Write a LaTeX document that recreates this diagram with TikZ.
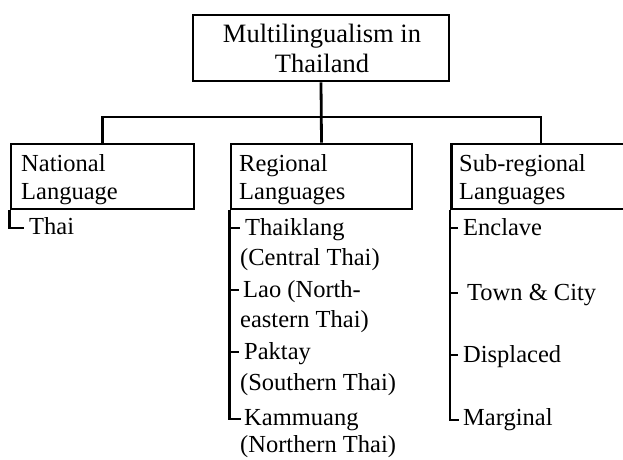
\documentclass[tikz,border=0pt]{standalone}
\usepackage{fontspec}
\setmainfont{Liberation Serif}
\begin{document}
\begin{tikzpicture}[x=1pt,y=-1pt,
  box/.style={draw=black,line width=2.8pt,minimum height=65pt,inner sep=0pt},
  lbl/.style={anchor=base west,inner sep=0pt,font=\fontsize{24.5}{30}\selectfont},
  ttl/.style={anchor=base,inner sep=0pt,font=\fontsize{26.5}{30}\selectfont},
  conn/.style={line width=2.8pt},
  lst/.style={line width=2.8pt},
  tick/.style={line width=2.4pt}]
\useasboundingbox[fill=white] (0,0) rectangle (623,459);
\begin{scope}
\clip (0,0) rectangle (623,459);
% boxes
\node[box,minimum width=256pt,minimum height=66pt] (top) at (321,48) {};
\node[box,minimum width=183pt] (nat) at (102.5,176.5) {};
\node[box,minimum width=181pt] (reg) at (321.5,176.5) {};
\node[box,minimum width=260pt,anchor=west] (sub) at (450,176.5) {};
\end{scope}
% title
\node[ttl] (t1) at (322,42) {Multilingualism in};
\node[ttl] (t2) at (322,72) {Thailand};
% connectors
\coordinate (hub) at (321,117);
\coordinate (subdrop) at (541,144);
\draw[conn] (top.south) -- (reg.north);
\draw[conn] (nat.north) |- (hub) -| (subdrop);
% headers
\node[lbl] (h1a) at (21,171) {National};
\node[lbl] (h1b) at (21,199) {Language};
\node[lbl] (h2a) at (239,171) {Regional};
\node[lbl] (h2b) at (239,199) {Languages};
\node[lbl] (h3a) at (459,171) {Sub-regional};
\node[lbl] (h3b) at (459,199) {Languages};
% national list
\node[lbl] (thai) at (29,234) {Thai};
\coordinate (n1) at (24,228);
\draw[lst] (nat.south west) |- (n1);
% regional list
\node[lbl] (r1a) at (245,235) {Thaiklang};
\node[lbl] (r1b) at (240,265) {(Central Thai)};
\node[lbl] (r2a) at (243,297) {Lao (North-};
\node[lbl] (r2b) at (240,327) {eastern Thai)};
\node[lbl] (r3a) at (244,359) {Paktay};
\node[lbl] (r3b) at (240,390) {(Southern Thai)};
\node[lbl] (r4a) at (244,425) {Kammuang};
\node[lbl] (r4b) at (240,452) {(Northern Thai)};
\coordinate (rt1) at (240,228);
\coordinate (rt2) at (239,290);
\coordinate (rt3) at (239,352);
\coordinate (rt4) at (241,419);
\draw[lst] (reg.south west) |- (rt4);
\draw[tick] (reg.south west |- rt1) -- (rt1);
\draw[tick] (reg.south west |- rt2) -- (rt2);
\draw[tick] (reg.south west |- rt3) -- (rt3);
% sub-regional list
\node[lbl] (s1) at (463,235) {Enclave};
\node[lbl] (s2) at (467,300) {Town \& City};
\node[lbl] (s3) at (463,362) {Displaced};
\node[lbl] (s4) at (463,425) {Marginal};
\coordinate (st1) at (458,228);
\coordinate (st2) at (458,293);
\coordinate (st3) at (458,355);
\coordinate (st4) at (459,420);
\draw[lst] (sub.south west) |- (st4);
\draw[tick] (sub.south west |- st1) -- (st1);
\draw[tick] (sub.south west |- st2) -- (st2);
\draw[tick] (sub.south west |- st3) -- (st3);
\end{tikzpicture}
\end{document}
